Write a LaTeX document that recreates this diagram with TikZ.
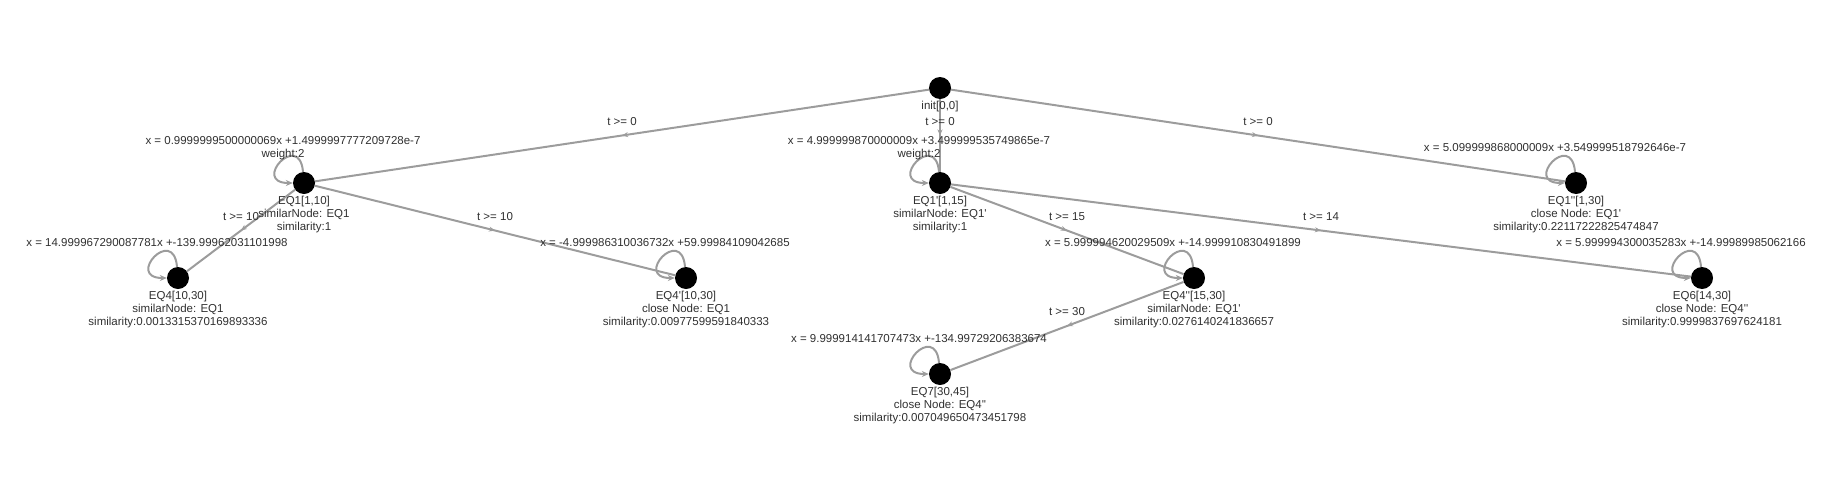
\documentclass[tikz,border=0pt]{standalone}
\usepackage{fontspec}
\setmainfont{Liberation Sans}[Ligatures=TeXOff]
\usetikzlibrary{arrows.meta,decorations.markings,positioning}
\definecolor{edgegray}{HTML}{9C9C9C}
\definecolor{textgray}{HTML}{303030}

\begin{document}
\begin{tikzpicture}[x=1pt, y=-1pt,
    state/.style={circle, fill=black, minimum size=22pt, inner sep=0pt},
    info/.style={align=center, inner sep=0pt, text=textgray, font=\fontsize{11.5}{13}\selectfont},
    trans/.style={draw=edgegray, line width=2pt, postaction={decorate}, decoration={markings,
        mark=at position 0.5 with {\arrow[edgegray]{Stealth[length=6pt, width=5pt]}}}},
    guard/.style={info, midway, yshift=14pt},
    selfloop/.style={draw=edgegray, line width=2pt, -{Stealth[length=7pt, width=6pt]}, out=95, in=180, distance=42pt}]
    \useasboundingbox (0,0) rectangle (1831,485);

    % States, one row per depth
    \node[state] (init) at (940,88) {};
    \node[state] (eq1) at (304,183) {};
    \node[state] (eq1p) at (940,183) {};
    \node[state] (eq1pp) at (1576,183) {};
    \node[state] (eq4) at (178,278) {};
    \node[state] (eq4p) at (686,278) {};
    \node[state] (eq4pp) at (1194,278) {};
    \node[state] (eq6) at (1702,278) {};
    \node[state] (eq7) at (940,374) {};

    % Transitions with their guards
    \draw[trans] (init) -- node[guard] {t >= 0} (eq1);
    \draw[trans] (init) -- node[guard] {t >= 0} (eq1p);
    \draw[trans] (init) -- node[guard] {t >= 0} (eq1pp);
    \draw[trans] (eq1) -- node[guard] {t >= 10} (eq4);
    \draw[trans] (eq1) -- node[guard] {t >= 10} (eq4p);
    \draw[trans] (eq1p) -- node[guard] {t >= 15} (eq4pp);
    \draw[trans] (eq1p) -- node[guard] {t >= 14} (eq6);
    \draw[trans] (eq4pp) -- node[guard] {t >= 30} (eq7);

    % Self loops
    \draw[selfloop] (eq1) to (eq1);
    \draw[selfloop] (eq1p) to (eq1p);
    \draw[selfloop] (eq1pp) to (eq1pp);
    \draw[selfloop] (eq4) to (eq4);
    \draw[selfloop] (eq4p) to (eq4p);
    \draw[selfloop] (eq4pp) to (eq4pp);
    \draw[selfloop] (eq6) to (eq6);
    \draw[selfloop] (eq7) to (eq7);

    % Fitted equations above the loops
    \node[info] (eq1fit) at ([shift={(-21,-35)}]eq1) {x = 0.9999999500000069x +1.4999997777209728e-7\\weight:2};
    \node[info] (eq1pfit) at ([shift={(-21,-35)}]eq1p) {x = 4.999999870000009x +3.499999535749865e-7\\weight:2};
    \node[info] (eq1ppfit) at ([shift={(-21,-35)}]eq1pp) {x = 5.099999868000009x +3.549999518792646e-7};
    \node[info] (eq4fit) at ([shift={(-21,-35)}]eq4) {x = 14.999967290087781x +-139.99962031101998};
    \node[info] (eq4pfit) at ([shift={(-21,-35)}]eq4p) {x = -4.999986310036732x +59.99984109042685};
    \node[info] (eq4ppfit) at ([shift={(-21,-35)}]eq4pp) {x = 5.999994620029509x +-14.999910830491899};
    \node[info] (eq6fit) at ([shift={(-21,-35)}]eq6) {x = 5.999994300035283x +-14.99989985062166};
    \node[info] (eq7fit) at ([shift={(-21,-35)}]eq7) {x = 9.999914141707473x +-134.99729206383674};

    % Names and similarity below the states
    \node[info, below=1.5pt of init] (inittxt) {init[0,0]};
    \node[info, below=1.5pt of eq1] (eq1txt) {EQ1[1,10]\\similarNode: EQ1\\similarity:1};
    \node[info, below=1.5pt of eq1p] (eq1ptxt) {EQ1'[1,15]\\similarNode: EQ1'\\similarity:1};
    \node[info, below=1.5pt of eq1pp] (eq1pptxt) {EQ1''[1,30]\\close Node: EQ1'\\similarity:0.22117222825474847};
    \node[info, below=1.5pt of eq4] (eq4txt) {EQ4[10,30]\\similarNode: EQ1\\similarity:0.0013315370169893336};
    \node[info, below=1.5pt of eq4p] (eq4ptxt) {EQ4'[10,30]\\close Node: EQ1\\similarity:0.00977599591840333};
    \node[info, below=1.5pt of eq4pp] (eq4pptxt) {EQ4''[15,30]\\similarNode: EQ1'\\similarity:0.0276140241836657};
    \node[info, below=1.5pt of eq6] (eq6txt) {EQ6[14,30]\\close Node: EQ4''\\similarity:0.9999837697624181};
    \node[info, below=1.5pt of eq7] (eq7txt) {EQ7[30,45]\\close Node: EQ4''\\similarity:0.007049650473451798};
\end{tikzpicture}
\end{document}
